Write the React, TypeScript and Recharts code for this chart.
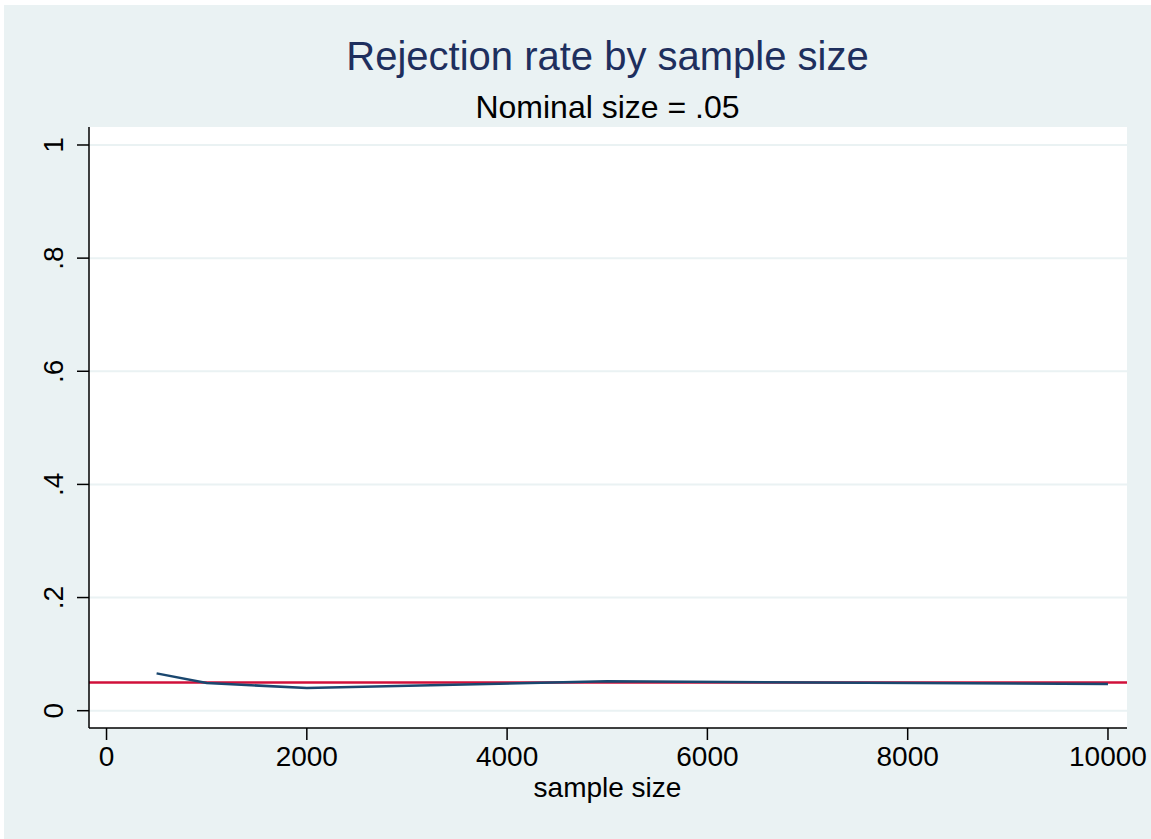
import { LineChart, Line, XAxis, YAxis, CartesianGrid, ReferenceLine } from "recharts";

const sampleSizes = [500, 1000, 2000, 5000, 10000];
const rejectionRates = [0.066, 0.049, 0.04, 0.052, 0.047];
const xTicks = [0, 2000, 4000, 6000, 8000, 10000];
const yTicks = [0, 0.2, 0.4, 0.6, 0.8, 1];
const nominalSize = 0.05;

const data = sampleSizes.map((n, i) => ({ n, rate: rejectionRates[i] }));

const FONT = "'Liberation Sans', Arial, Helvetica, sans-serif";
const BG = "#eaf2f3";

const fmtY = (v: number) => (v === 0 ? "0" : v === 1 ? "1" : String(v).replace(/^0/, ""));

function YTick({ x, y, payload }: any) {
  return (
    <text
      transform={`translate(${x}, ${y}) rotate(-90)`}
      textAnchor="middle"
      fontSize={28}
      fontFamily={FONT}
      fill="#000"
    >
      {fmtY(payload.value)}
    </text>
  );
}

function XTick({ x, y, payload }: any) {
  return (
    <text x={x} y={y + 20} textAnchor="middle" fontSize={28} fontFamily={FONT} fill="#000">
      {payload.value}
    </text>
  );
}

export default function App() {
  return (
    <div style={{ position: "absolute", left: 0, top: 0, width: 1151, height: 839, background: "#fff" }}>
      <div style={{ position: "absolute", left: 4, top: 5, width: 1147, height: 834, background: BG }} />
      <div style={{ position: "absolute", left: 0, top: 0 }}>
        <LineChart width={1151} height={839} data={data} margin={{ top: 127, right: 24, bottom: 51, left: 29 }}>
          <CartesianGrid vertical={false} stroke={BG} strokeWidth={2} fill="#fff" horizontalValues={yTicks} />
          <XAxis
            dataKey="n"
            type="number"
            domain={[-175, 10190]}
            ticks={xTicks}
            allowDataOverflow
            height={60}
            tickSize={12}
            tickMargin={6}
            tick={<XTick />}
            axisLine={{ stroke: "#000", strokeWidth: 1.5 }}
            tickLine={{ stroke: "#000", strokeWidth: 1.5 }}
          />
          <YAxis
            type="number"
            domain={[-0.0306, 1.0318]}
            ticks={yTicks}
            allowDataOverflow
            width={60}
            tickSize={12}
            tickMargin={14}
            tick={<YTick />}
            axisLine={{ stroke: "#000", strokeWidth: 1.5 }}
            tickLine={{ stroke: "#000", strokeWidth: 1.5 }}
          />
          <ReferenceLine y={nominalSize} stroke="#d0103a" strokeWidth={2.5} />
          <Line
            type="linear"
            dataKey="rate"
            stroke="#1a476f"
            strokeWidth={2.5}
            dot={false}
            isAnimationActive={false}
          />
        </LineChart>
      </div>
      <svg width={1151} height={839} style={{ position: "absolute", left: 0, top: 0, pointerEvents: "none" }}>
        <text x={607.5} y={70} textAnchor="middle" fontSize={40} fontFamily={FONT} fill="#1e2f5e">
          Rejection rate by sample size
        </text>
        <text x={607.5} y={118} textAnchor="middle" fontSize={32} fontFamily={FONT} fill="#000">
          Nominal size = .05
        </text>
        <text x={607.5} y={797} textAnchor="middle" fontSize={28} fontFamily={FONT} fill="#000">
          sample size
        </text>
      </svg>
    </div>
  );
}
